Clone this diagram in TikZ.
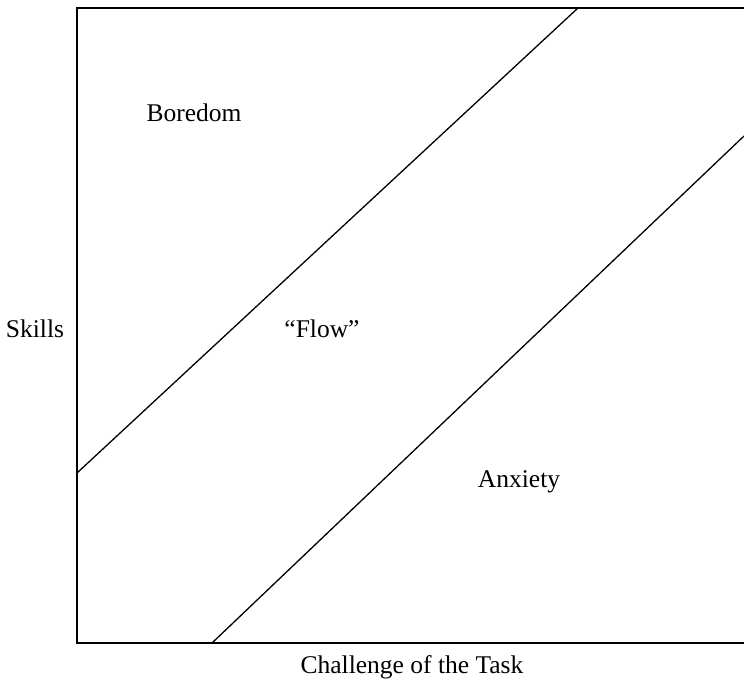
\documentclass[tikz,border=0pt]{standalone}
\usepackage{fontspec}
\setmainfont{Liberation Serif}
\begin{document}
\begin{tikzpicture}[x=1pt,y=-1pt,
  frame/.style={line width=1.8pt},
  zone/.style={line width=1.3pt},
  label/.style={font=\fontsize{25.5}{28}\selectfont, inner sep=0pt}]
\useasboundingbox (0,0) rectangle (744,683);
% chart frame (open on the right, where it runs off the page)
\coordinate (tl) at (77,8);
\coordinate (bl) at (77,643);
\coordinate (tr) at (744,8);
\coordinate (br) at (744,643);
\draw[frame] (tr) -- (tl) -- (bl) -- (br);
% boundaries of the flow channel
\coordinate (u1) at (77,473);
\coordinate (u2) at (578,8);
\coordinate (l1) at (212,643);
\coordinate (l2) at (744,136);
\draw[zone] (u1) -- (u2);
\draw[zone] (l1) -- (l2);
% region and axis labels
\node[label] (boredom) at (194,113) {Boredom};
\node[label] (flow) at (322,329) {“Flow”};
\node[label] (anxiety) at (519,482) {Anxiety};
\node[label] (skills) at (35,329) {Skills};
\node[label] (challenge) at (412,667) {Challenge of the Task};
\end{tikzpicture}
\end{document}
